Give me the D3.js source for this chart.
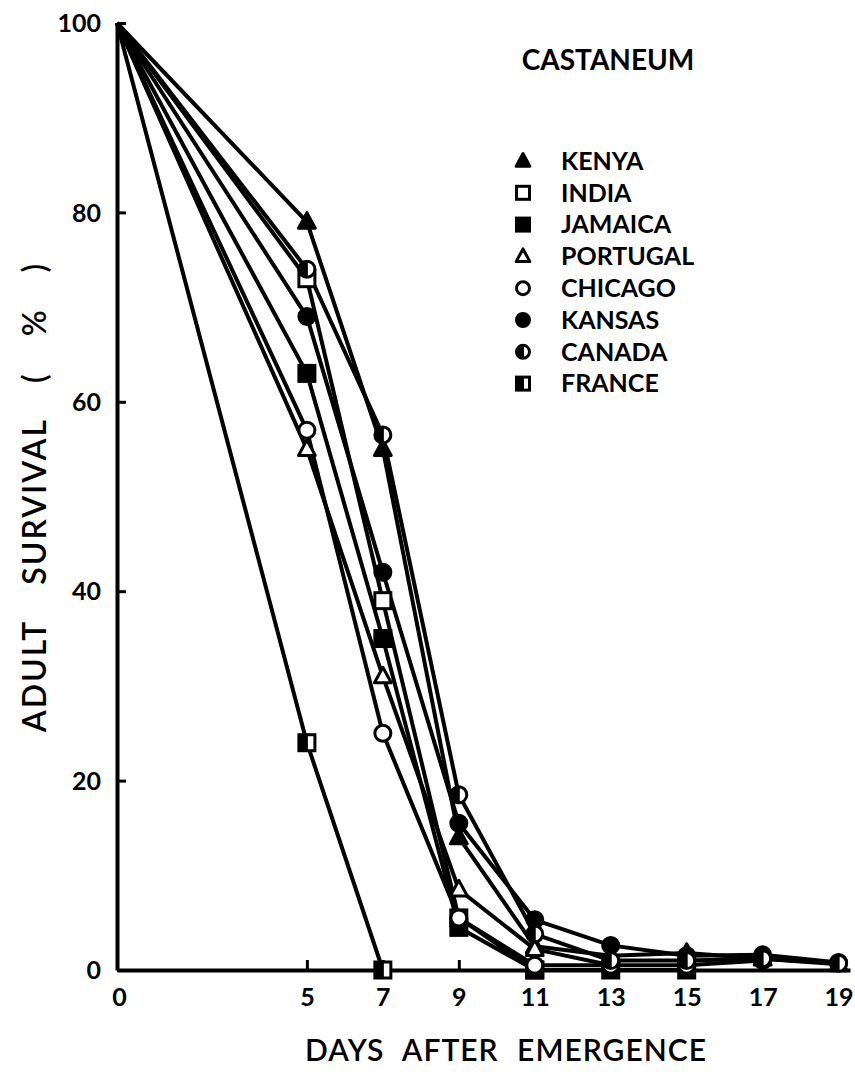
<!DOCTYPE html>
<html>
<head>
<meta charset="utf-8">
<script src="https://cdn.jsdelivr.net/npm/d3@7"></script>
<style>
  body { margin: 0; background: #fff; }
  text { font-family: Lato, "DejaVu Sans", sans-serif; font-weight: 700; fill: #000; }
</style>
</head>
<body>
<div id="chart"></div>
<script>
const days = [0, 5, 7, 9, 11, 13, 15, 17, 19];
const xTicks = [0, 5, 7, 9, 11, 13, 15, 17, 19];
const yTicks = [0, 20, 40, 60, 80, 100];

const kenya    = [100, 79, 55, 14, 2.5, 1.5, 1.8, 1.2, 0.6];
const india    = [100, 73, 39, 5.5, 0];
const jamaica  = [100, 63, 35, 4.5, 0, 0, 0];
const portugal = [100, 55, 31, 8.5, 2.2, 0.5];
const chicago  = [100, 57, 25, 5.5, 0.5, 0.5, 0.5, 1];
const kansas   = [100, 69, 42, 15.5, 5.3, 2.6, 1.5, 1.6, 0.8];
const canada   = [100, 74, 56.5, 18.5, 3.8, 1, 1, 1.2, 0.7];
const france   = [100, 24, 0];

const names = ['KENYA', 'INDIA', 'JAMAICA', 'PORTUGAL', 'CHICAGO', 'KANSAS', 'CANADA', 'FRANCE'];
const shapes = ['triFill', 'sqOpen', 'sqFill', 'triOpen', 'cirOpen', 'cirFill', 'cirHalf', 'sqHalf'];
const seriesValues = [kenya, india, jamaica, portugal, chicago, kansas, canada, france];

const series = names.map((n, i) => ({
  name: n,
  shape: shapes[i],
  points: seriesValues[i].map((v, j) => ({ day: days[j], value: v }))
}));

const width = 855, height = 1080;
const svg = d3.select('#chart').append('svg')
  .attr('width', width).attr('height', height);

const x = d3.scaleLinear().domain([0, 19.3]).range([117, 850]);
const y = d3.scaleLinear().domain([0, 100]).range([970, 23]);

// axes
const yAxis = svg.append('g')
  .attr('transform', `translate(${x(0)},0)`)
  .call(d3.axisLeft(y).tickValues(yTicks).tickSize(-9).tickSizeOuter(0).tickPadding(16));
const xAxis = svg.append('g')
  .attr('transform', `translate(0,${y(0)})`)
  .call(d3.axisBottom(x).tickValues(xTicks).tickSize(-10).tickSizeOuter(0).tickPadding(18));

[yAxis, xAxis].forEach(a => {
  a.select('.domain').attr('stroke', '#000').attr('stroke-width', 4);
  a.selectAll('.tick line').attr('stroke', '#000').attr('stroke-width', 3);
  a.selectAll('.tick text').style('font-size', '25px')
    .style('font-family', 'Lato, "DejaVu Sans", sans-serif').style('font-weight', 700);
});
yAxis.selectAll('.tick text').attr('dy', '0.35em');
xAxis.select('.tick text').attr('dx', '2');

// lines
const line = d3.line().x(d => x(d.day)).y(d => y(d.value));
svg.append('g').selectAll('path')
  .data(series)
  .join('path')
    .attr('d', d => line(d.points))
    .attr('fill', 'none')
    .attr('stroke', '#000')
    .attr('stroke-width', 4)
    .attr('stroke-linejoin', 'round');

// marker drawing
const drawMarker = (g, shape, cx, cy, s) => {
  const h = s / 2;
  if (shape === 'triFill' || shape === 'triOpen') {
    g.append('path')
      .attr('d', `M${cx},${cy - h * 1.15}L${cx + h * 1.05},${cy + h * 0.8}L${cx - h * 1.05},${cy + h * 0.8}Z`)
      .attr('fill', shape === 'triFill' ? '#000' : '#fff')
      .attr('stroke', '#000').attr('stroke-width', 3).attr('stroke-linejoin', 'round');
  } else if (shape === 'sqFill' || shape === 'sqOpen' || shape === 'sqHalf') {
    g.append('rect')
      .attr('x', cx - h).attr('y', cy - h).attr('width', s).attr('height', s)
      .attr('fill', shape === 'sqFill' ? '#000' : '#fff')
      .attr('stroke', '#000').attr('stroke-width', 3);
    if (shape === 'sqHalf') {
      g.append('rect').attr('x', cx - h).attr('y', cy - h).attr('width', h + 1).attr('height', s)
        .attr('fill', '#000');
    }
  } else {
    g.append('circle')
      .attr('cx', cx).attr('cy', cy).attr('r', h)
      .attr('fill', shape === 'cirFill' ? '#000' : '#fff')
      .attr('stroke', '#000').attr('stroke-width', 3);
    if (shape === 'cirHalf') {
      g.append('path')
        .attr('d', `M${cx + 1},${cy - h}A${h},${h} 0 0 0 ${cx + 1},${cy + h}Z`)
        .attr('fill', '#000');
    }
  }
};

// markers (none at the common starting point)
const marks = svg.append('g');
series.forEach(s => {
  s.points.filter(p => p.day > 0).forEach(p => {
    drawMarker(marks, s.shape, x(p.day), y(p.value), 16);
  });
});

// title
svg.append('text')
  .attr('x', 608).attr('y', 70)
  .attr('text-anchor', 'middle')
  .style('font-size', '28px')
  .text('CASTANEUM');

// legend
const legend = svg.append('g');
series.forEach((s, i) => {
  const ly = 161 + i * 31.8;
  drawMarker(legend, s.shape, 523, ly, 13);
  legend.append('text')
    .attr('x', 561).attr('y', ly)
    .attr('dy', '0.35em')
    .style('font-size', '25px')
    .text(s.name);
});

// axis titles
svg.append('text')
  .attr('x', 506).attr('y', 1061)
  .attr('text-anchor', 'middle')
  .style('font-size', '30px')
  .style('font-weight', 600)
  .style('word-spacing', '10px')
  .style('letter-spacing', '1px')
  .text('DAYS AFTER EMERGENCE');

svg.append('text')
  .attr('transform', `translate(46,${497}) rotate(-90)`)
  .attr('text-anchor', 'middle')
  .style('font-size', '32px')
  .style('font-weight', 600)
  .style('word-spacing', '26px')
  .style('letter-spacing', '2px')
  .text('ADULT SURVIVAL ( % )');
</script>
</body>
</html>
